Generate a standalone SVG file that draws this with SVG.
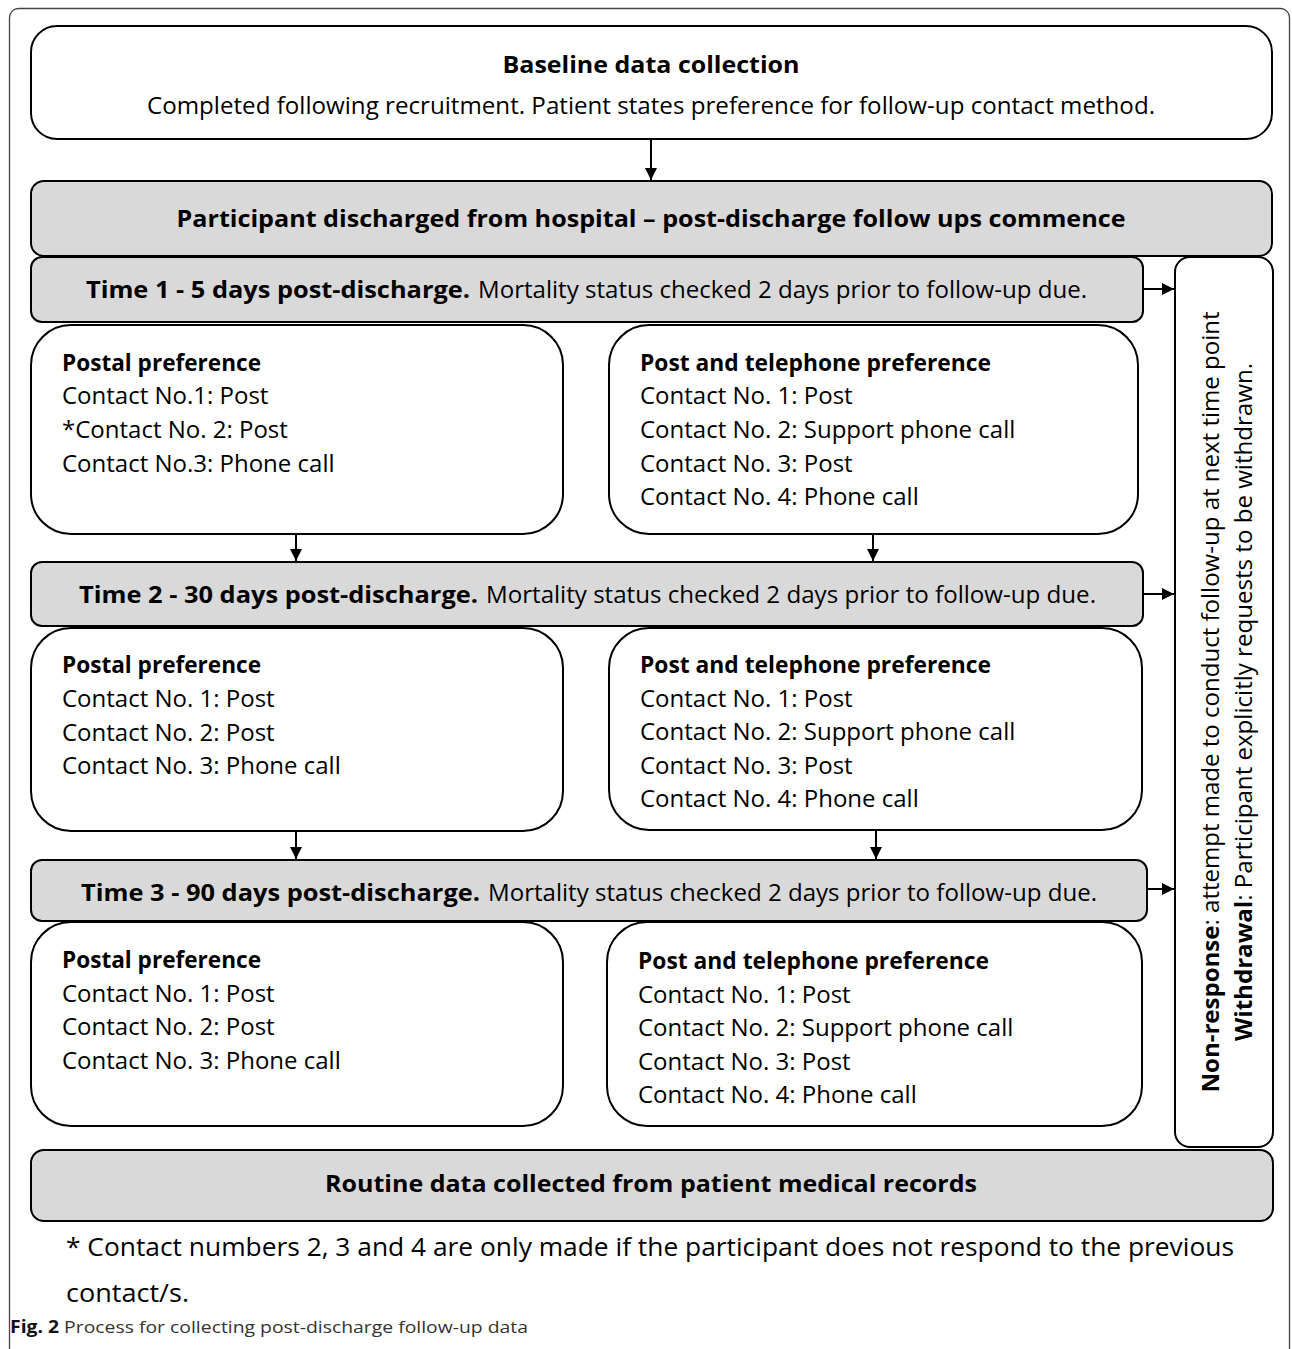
<svg xmlns="http://www.w3.org/2000/svg" width="1292" height="1349" viewBox="0 0 1292 1349">
<style>
  .box { fill: #ffffff; stroke: #000; stroke-width: 2; }
  .gbox { fill: #d9d9d9; stroke: #000; stroke-width: 2; }
  text { font-family: "Open Sans", "Liberation Sans", sans-serif; fill: #000; }
  .b { font-weight: bold; }
  .t { font-size: 24px; }
  .h { font-size: 23px; font-weight: bold; }
  .conn { stroke: #000; stroke-width: 2; fill: none; marker-end: url(#ah); }
</style>
<defs>
  <marker id="ah" viewBox="0 0 12 12" refX="12" refY="6" markerWidth="12" markerHeight="12" markerUnits="userSpaceOnUse" orient="auto">
    <path d="M0,0 L12,6 L0,12 Z" fill="#000"/>
  </marker>
</defs>
<rect x="0" y="0" width="1292" height="1349" fill="#fff"/>
<rect x="9.5" y="8.5" width="1280" height="1380" rx="9" fill="none" stroke="#444" stroke-width="1.3"/>

<g id="baseline">
  <rect class="box" x="31" y="26" width="1241" height="113" rx="26"/>
  <text class="h" x="651" y="73" text-anchor="middle" font-size="27" textLength="297" lengthAdjust="spacingAndGlyphs">Baseline data collection</text>
  <text class="t" x="651" y="114" text-anchor="middle" font-size="23.5" textLength="1008" lengthAdjust="spacingAndGlyphs">Completed following recruitment. Patient states preference for follow-up contact method.</text>
</g>

<g id="discharged">
  <rect class="gbox" x="31" y="181" width="1241" height="75" rx="13"/>
  <text class="h" x="651" y="227" text-anchor="middle" font-size="27" textLength="949" lengthAdjust="spacingAndGlyphs">Participant discharged from hospital – post-discharge follow ups commence</text>
</g>

<g id="time1">
  <rect class="gbox" x="31" y="257" width="1112" height="65" rx="11"/>
  <text class="h" x="86" y="298" font-size="27" textLength="384" lengthAdjust="spacingAndGlyphs">Time 1 - 5 days post-discharge.</text>
  <text class="t" x="478" y="298" font-size="23" textLength="609" lengthAdjust="spacingAndGlyphs">Mortality status checked 2 days prior to follow-up due.</text>
</g>

<g id="postal1">
  <rect class="box" x="31" y="325" width="532" height="209" rx="40"/>
  <text class="h" x="62" y="371" textLength="199" lengthAdjust="spacingAndGlyphs">Postal preference</text>
  <text class="t" x="62" y="404">Contact No.1: Post</text>
  <text class="t" x="62" y="438">*Contact No. 2: Post</text>
  <text class="t" x="62" y="472">Contact No.3: Phone call</text>
</g>

<g id="posttel1">
  <rect class="box" x="609" y="325" width="529" height="209" rx="40"/>
  <text class="h" x="640" y="371" textLength="351" lengthAdjust="spacingAndGlyphs">Post and telephone preference</text>
  <text class="t" x="640" y="404">Contact No. 1: Post</text>
  <text class="t" x="640" y="438">Contact No. 2: Support phone call</text>
  <text class="t" x="640" y="472">Contact No. 3: Post</text>
  <text class="t" x="640" y="505">Contact No. 4: Phone call</text>
</g>

<g id="time2">
  <rect class="gbox" x="31" y="562" width="1112" height="64" rx="11"/>
  <text class="h" x="79" y="603" font-size="27" textLength="399" lengthAdjust="spacingAndGlyphs">Time 2 - 30 days post-discharge.</text>
  <text class="t" x="486" y="603" font-size="23" textLength="610" lengthAdjust="spacingAndGlyphs">Mortality status checked 2 days prior to follow-up due.</text>
</g>

<g id="postal2">
  <rect class="box" x="31" y="628" width="532" height="203" rx="40"/>
  <text class="h" x="62" y="673" textLength="199" lengthAdjust="spacingAndGlyphs">Postal preference</text>
  <text class="t" x="62" y="707">Contact No. 1: Post</text>
  <text class="t" x="62" y="741">Contact No. 2: Post</text>
  <text class="t" x="62" y="774">Contact No. 3: Phone call</text>
</g>

<g id="posttel2">
  <rect class="box" x="609" y="628" width="533" height="202" rx="40"/>
  <text class="h" x="640" y="673" textLength="351" lengthAdjust="spacingAndGlyphs">Post and telephone preference</text>
  <text class="t" x="640" y="707">Contact No. 1: Post</text>
  <text class="t" x="640" y="740">Contact No. 2: Support phone call</text>
  <text class="t" x="640" y="774">Contact No. 3: Post</text>
  <text class="t" x="640" y="807">Contact No. 4: Phone call</text>
</g>

<g id="time3">
  <rect class="gbox" x="31" y="860" width="1116" height="61" rx="11"/>
  <text class="h" x="81" y="901" font-size="27" textLength="399" lengthAdjust="spacingAndGlyphs">Time 3 - 90 days post-discharge.</text>
  <text class="t" x="488" y="901" font-size="23" textLength="609" lengthAdjust="spacingAndGlyphs">Mortality status checked 2 days prior to follow-up due.</text>
</g>

<g id="postal3">
  <rect class="box" x="31" y="922" width="532" height="204" rx="40"/>
  <text class="h" x="62" y="968" textLength="199" lengthAdjust="spacingAndGlyphs">Postal preference</text>
  <text class="t" x="62" y="1002">Contact No. 1: Post</text>
  <text class="t" x="62" y="1035">Contact No. 2: Post</text>
  <text class="t" x="62" y="1069">Contact No. 3: Phone call</text>
</g>

<g id="posttel3">
  <rect class="box" x="607" y="922" width="535" height="204" rx="40"/>
  <text class="h" x="638" y="969" textLength="351" lengthAdjust="spacingAndGlyphs">Post and telephone preference</text>
  <text class="t" x="638" y="1003">Contact No. 1: Post</text>
  <text class="t" x="638" y="1036">Contact No. 2: Support phone call</text>
  <text class="t" x="638" y="1070">Contact No. 3: Post</text>
  <text class="t" x="638" y="1103">Contact No. 4: Phone call</text>
</g>

<g id="sidebox">
  <rect class="box" x="1175" y="257" width="98" height="890" rx="15"/>
  <text class="t" font-size="22.5" transform="translate(1219,702) rotate(-90)" text-anchor="middle" textLength="781" lengthAdjust="spacingAndGlyphs"><tspan class="b">Non-response</tspan>: attempt made to conduct  follow-up at next time point</text>
  <text class="t" font-size="22.5" transform="translate(1252,702) rotate(-90)" text-anchor="middle" textLength="678" lengthAdjust="spacingAndGlyphs"><tspan class="b">Withdrawal</tspan>: Participant  explicitly requests to be withdrawn.</text>
</g>

<g id="routine">
  <rect class="gbox" x="31" y="1150" width="1242" height="71" rx="13"/>
  <text class="h" x="651" y="1192" text-anchor="middle" font-size="27" textLength="652" lengthAdjust="spacingAndGlyphs">Routine data collected from patient medical records</text>
</g>

<g id="connectors">
  <line class="conn" x1="651" y1="139" x2="651" y2="180"/>
  <line class="conn" x1="296" y1="534" x2="296" y2="561"/>
  <line class="conn" x1="873" y1="534" x2="873" y2="561"/>
  <line class="conn" x1="296" y1="831" x2="296" y2="859"/>
  <line class="conn" x1="876" y1="830" x2="876" y2="859"/>
  <line class="conn" x1="1143" y1="289" x2="1174" y2="289"/>
  <line class="conn" x1="1143" y1="594" x2="1174" y2="594"/>
  <line class="conn" x1="1147" y1="889" x2="1174" y2="889"/>
</g>

<g id="notes">
  <text x="66" y="1256" font-size="26" textLength="1168" lengthAdjust="spacingAndGlyphs">* Contact numbers 2, 3 and 4 are only made if the participant does not respond to the previous</text>
  <text x="66" y="1302" font-size="26" textLength="123" lengthAdjust="spacingAndGlyphs">contact/s.</text>
  <text x="10" y="1333" font-size="17" textLength="518" lengthAdjust="spacingAndGlyphs"><tspan font-weight="bold" fill="#111">Fig. 2</tspan><tspan fill="#333"> Process for collecting post-discharge follow-up data</tspan></text>
</g>
</svg>
